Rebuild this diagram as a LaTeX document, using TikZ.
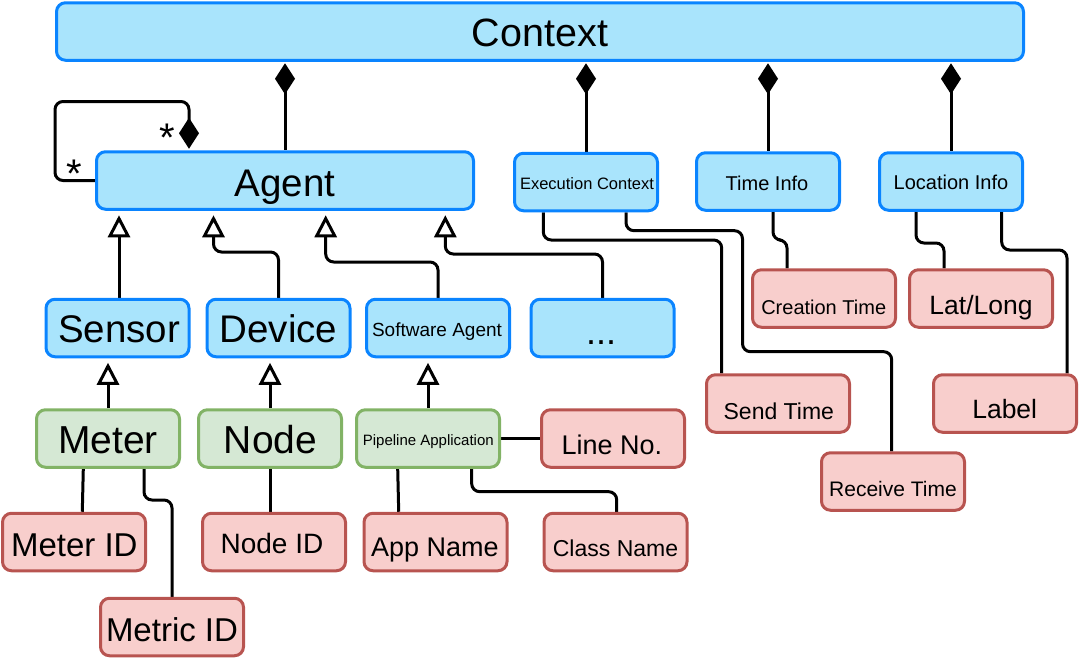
\documentclass[tikz,border=0pt]{standalone}
\usepackage{fontspec}
\setmainfont{Liberation Sans}
\usetikzlibrary{arrows.meta,calc}
\definecolor{cBlue}{HTML}{A9E4FC}
\definecolor{cBlueD}{HTML}{0A84FF}
\definecolor{cGreen}{HTML}{D5E8D4}
\definecolor{cGreenD}{HTML}{82B366}
\definecolor{cRed}{HTML}{F8CECC}
\definecolor{cRedD}{HTML}{B85450}
\newcommand{\myfs}[1]{\fontsize{#1}{#1}\selectfont}
\pgfdeclarelayer{bg}
\pgfsetlayers{bg,main}
\tikzset{
  box/.style={rounded corners=9pt, line width=3pt, inner sep=0pt, minimum width=143pt, minimum height=57.5pt},
  bluebox/.style={box, draw=cBlueD, fill=cBlue},
  greenbox/.style={box, draw=cGreenD, fill=cGreen},
  redbox/.style={box, draw=cRedD, fill=cRed},
  lbl/.style={anchor=base, inner sep=0pt, text=black},
  conn/.style={line width=3pt, rounded corners=8pt, draw=black},
  comp/.style={conn, {Diamond[length=31pt,width=20pt]}-, shorten <=1.5pt},
  inh/.style={conn, -{Triangle[open,length=22pt,width=22pt,line width=3pt]}, shorten >=4.5pt},
}
\begin{document}
\begin{tikzpicture}[x=1pt,y=-1pt]
\useasboundingbox (0,0) rectangle (1079,659);
% boxes
\node[bluebox, minimum width=967pt] (context) at (540,31.5) {};
\node[bluebox, minimum width=377pt] (agent) at (285,180.5) {};
\node[bluebox] (ec) at (586,182) {};
\node[bluebox] (ti) at (768,181.5) {};
\node[bluebox] (li) at (951,181.5) {};
\node[bluebox] (sensor) at (117.5,328) {};
\node[bluebox] (device) at (278.5,328) {};
\node[bluebox] (sa) at (438,328) {};
\node[bluebox] (dots) at (602.5,328) {};
\node[greenbox] (meter) at (108,438.5) {};
\node[greenbox] (nodeb) at (270,438.5) {};
\node[greenbox] (pipe) at (428,438.5) {};
\node[redbox] (lineno) at (613,438.5) {};
\node[redbox] (meterid) at (74,542) {};
\node[redbox] (metricid) at (172,627) {};
\node[redbox] (nodeid) at (274,542) {};
\node[redbox] (appname) at (435.5,542) {};
\node[redbox] (classname) at (615.5,542) {};
\node[redbox] (creation) at (824,298.5) {};
\node[redbox] (latlong) at (981,298.5) {};
\node[redbox] (send) at (778,403.5) {};
\node[redbox] (label) at (1005,403.5) {};
\node[redbox] (receive) at (893,481.5) {};
% texts
\node[lbl, font=\myfs{39.5}] (contextT) at (540,46) {Context};
\node[lbl, font=\myfs{38.5}] (agentT) at (285,196) {Agent};
\node[lbl, font=\myfs{16.5}] (ecT) at (587,189.3) {Execution Context};
\node[lbl, font=\myfs{20}] (tiT) at (767,190.5) {Time Info};
\node[lbl, font=\myfs{20}] (liT) at (951,189.5) {Location Info};
\node[lbl, font=\myfs{38.5}] (sensorT) at (119,342.7) {Sensor};
\node[lbl, font=\myfs{38.5}] (deviceT) at (278.5,342.7) {Device};
\node[lbl, font=\myfs{19}] (saT) at (437,336) {Software Agent};
\node[lbl, font=\myfs{36}] (dotsT) at (601,344) {...};
\node[lbl, font=\myfs{39}] (meterT) at (108,453.3) {Meter};
\node[lbl, font=\myfs{39}] (nodebT) at (270.5,453.3) {Node};
\node[lbl, font=\myfs{15}] (pipeT) at (428.3,445) {Pipeline Application};
\node[lbl, font=\myfs{27}] (linenoT) at (612,454) {Line No.};
\node[lbl, font=\myfs{33}] (meteridT) at (74.3,556) {Meter ID};
\node[lbl, font=\myfs{33}] (metricidT) at (172,641.7) {Metric ID};
\node[lbl, font=\myfs{28}] (nodeidT) at (272,553) {Node ID};
\node[lbl, font=\myfs{27}] (appnameT) at (435,556.7) {App Name};
\node[lbl, font=\myfs{23}] (classnameT) at (615.5,556.7) {Class Name};
\node[lbl, font=\myfs{20}] (creationT) at (823.7,314) {Creation Time};
\node[lbl, font=\myfs{23}] (sendT) at (778.8,419) {Send Time};
\node[lbl, font=\myfs{21}] (receiveT) at (893,496.7) {Receive Time};
\node[lbl, font=\myfs{26.5}] (latlongT) at (981,314) {Lat/Long};
\node[lbl, font=\myfs{26.5}] (labelT) at (1004.7,418.3) {Label};
\node[lbl, font=\myfs{40}] (star1) at (167,151.5) {*};
\node[lbl, font=\myfs{40}] (star2) at (74.3,187.5) {*};
% connectors
\begin{pgfonlayer}{bg}
\draw[comp] (agent.north |- context.south) -- (agent.north);
\draw[comp] (ec.north |- context.south) -- (ec.north);
\draw[comp] (ti.north |- context.south) -- (ti.north);
\draw[comp] (li.north |- context.south) -- (li.north);
\draw[conn, -{Diamond[length=31pt,width=20pt]}, shorten >=1.5pt] (agent.west) -| (55,101.5) -| ($(agent.north west)+(94,0)$);
\draw[inh] (119,0 |- sensor.north) -- (119,0 |- agent.south);
\draw[inh] (device.north) |- (213.5,252) -- (213.5,0 |- agent.south);
\draw[inh] (sa.north) |- (325.7,262) -- (325.7,0 |- agent.south);
\draw[inh] (dots.north) |- (445.3,254) -- (445.3,0 |- agent.south);
\draw[inh] (meter.north) -- (meter.north |- sensor.south);
\draw[inh] (nodeb.north) -- (nodeb.north |- device.south);
\draw[inh] (pipe.north) -- (pipe.north |- sa.south);
\draw[conn] (543.3,0 |- ec.south) |- (721.7,240) -- (721.7,0 |- send.north);
\draw[conn] (626,0 |- ec.south) |- (742.5,230.7) |- (891.7,351.7) -- (891.7,0 |- receive.north);
\draw[conn] (773,0 |- ti.south) |- (787,240) -- (787,0 |- creation.north);
\draw[conn] (916,0 |- li.south) |- (944,243) -- (944,0 |- latlong.north);
\draw[conn] (1001.7,0 |- li.south) |- (1067,250) -- (1067,0 |- label.north);
\draw[conn] (83.3,0 |- meter.south) -- (82.3,0 |- meterid.north);
\draw[conn] (144,0 |- meter.south) |- (172,500) -- (metricid.north);
\draw[conn] (nodeb.south) -- (nodeb.south |- nodeid.north);
\draw[conn] (pipe.east) -- (pipe.east -| lineno.west);
\draw[conn] (397.7,0 |- pipe.south) -- (398.7,0 |- appname.north);
\draw[conn] (471.7,0 |- pipe.south) |- (616.7,491.7) -- (616.7,0 |- classname.north);
\end{pgfonlayer}
\end{tikzpicture}
\end{document}
